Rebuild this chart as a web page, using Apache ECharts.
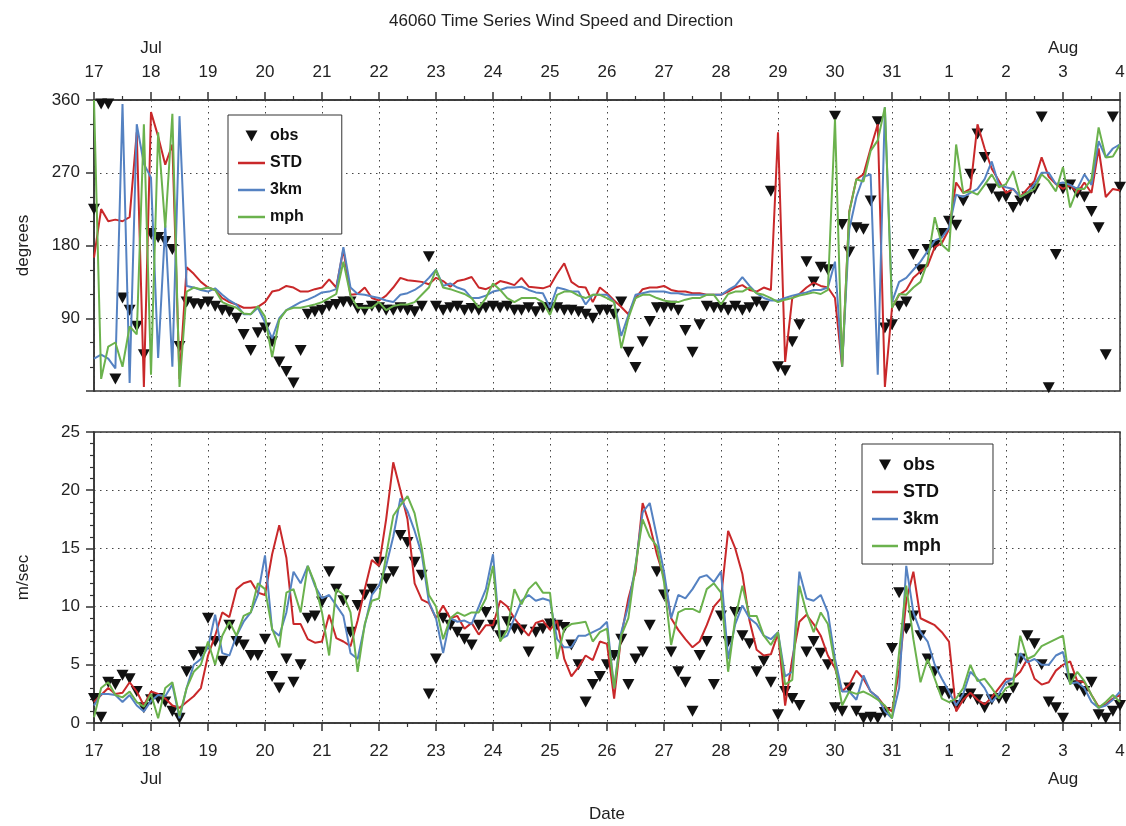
<!DOCTYPE html>
<html><head><meta charset="utf-8">
<script src="https://cdn.jsdelivr.net/npm/echarts/dist/echarts.min.js"></script>
<style>html,body{margin:0;padding:0;background:#fff}#c{width:1126px;height:826px}</style>
</head><body><div id="c"></div>
<script>
// tick labels (one per day, Jul 17 .. Aug 4)
const dayLabels = ['17','18','19','20','21','22','23','24','25','26','27','28','29','30','31','1','2','3','4'];
const monthLabels = {1:'Jul', 17:'Aug'};
const stepHours = 3; // values every 3 hours from Jul 17 00Z

// ---- wind direction (degrees) ----
const obsDir = [225,355,355,15,115,100,80,45, 195,190,185,175,55,110,108,107, 110,105,100,98,90,70,50,72,
 78,61,36,24,10,50,95,98, 100,105,107,110,110,102,100,105, 103,100,100,103,100,98,105,166,
 105,100,103,105,100,102,100,103, 105,103,105,100,100,103,98,103, 103,103,100,100,98,95,90,100,
 100,95,110,48,29,61,86,103, 103,105,100,75,48,82,105,103, 103,100,105,100,103,110,105,247,
 30,25,61,82,160,135,153,150, 340,206,172,202,200,235,333,78, 82,105,110,169,150,175,180,195,
 210,205,235,268,318,289,250,240, 240,227,235,240,250,339,4,169, 250,255,245,240,222,202,45,339, 252];
const stdDir = [165,225,210,212,210,215,320,5, 345,315,280,305,15,153,145,135, 128,125,115,110,107,103,103,104,
 110,123,125,130,128,123,123,126, 128,138,128,175,119,120,128,115, 112,118,128,140,137,136,135,132,
 140,136,129,136,138,141,128,126, 130,136,134,131,140,129,128,127, 130,145,158,135,129,128,110,128,
 121,112,104,95,115,126,128,128, 130,125,123,123,121,121,119,119, 119,123,128,131,125,123,128,125,
 320,36,115,120,128,134,130,128, 115,30,222,262,268,300,330,5, 103,119,125,140,148,155,178,183,
 200,258,245,250,330,300,275,260, 245,250,240,250,260,289,265,256, 250,255,245,258,245,300,240,250, 248];
const km3Dir = [40,45,40,28,355,10,330,281, 264,41,205,30,340,130,128,125, 123,127,119,112,107,95,95,103,
 85,65,90,100,105,110,113,117, 122,123,126,178,128,120,119,117, 115,112,110,119,121,125,131,140,
 150,130,133,128,125,115,115,118, 123,125,128,128,129,125,122,121, 103,128,126,123,123,107,119,119,
 119,110,68,94,119,121,123,123, 123,121,121,119,119,119,119,119, 119,125,130,141,130,121,115,112,
 112,115,118,120,122,125,125,128, 160,30,200,240,265,268,20,351, 110,135,140,150,160,173,186,190,
 202,243,240,245,250,262,284,255, 252,250,240,245,256,270,270,256, 258,255,250,268,255,309,289,300, 305];
const mphDir = [360,15,55,60,30,80,70,330, 20,320,202,343,5,123,128,126, 128,125,110,106,103,96,95,105,
 92,42,88,100,103,103,105,107, 110,115,120,160,118,103,103,103, 110,100,105,107,107,110,119,128,
 150,128,126,123,120,115,103,115, 133,125,115,110,115,115,115,110, 94,119,123,123,118,115,119,119,
 115,110,53,90,115,119,119,115, 112,110,110,113,115,115,119,119, 107,120,123,123,128,121,119,115,
 110,113,115,118,120,122,120,125, 336,30,221,262,259,297,310,351, 103,120,119,128,135,160,215,181,
 173,305,245,247,243,255,268,252, 256,272,240,245,250,268,260,247, 277,227,250,250,262,326,289,290, 305];

// ---- wind speed (m/sec) ----
const obsSpd = [2.1,0.5,3.5,3.3,4.1,3.8,2.7,1.3, 2.0,2.1,1.8,1.0,0.4,4.4,5.8,6.1, 9.0,7.0,5.3,8.4,7.0,6.7,5.8,5.8,
 7.2,4.0,3.0,5.5,3.5,5.0,9.0,9.2, 10.4,13.0,11.5,10.5,7.8,10.1,11.0,11.5, 13.8,12.4,13.0,16.1,15.5,13.8,12.7,2.5,
 5.5,9.0,8.4,7.8,7.2,6.7,8.4,9.5, 8.4,7.5,8.7,8.1,8.0,6.1,7.8,8.1, 8.5,8.4,8.2,6.7,5.0,1.8,3.3,4.0,
 5.0,5.8,7.2,3.3,5.5,6.1,8.4,13.0, 11.0,6.1,4.4,3.5,1.0,5.8,7.0,3.3, 9.2,7.0,9.5,7.5,6.8,4.4,5.3,3.5,
 0.7,2.7,2.1,1.5,6.1,7.0,6.0,5.0, 1.3,1.0,3.0,1.0,0.4,0.5,0.4,0.9, 6.4,11.2,8.1,9.2,7.5,5.5,4.4,2.7,
 2.5,1.5,2.1,2.5,2.0,1.3,2.0,2.1, 2.1,3.0,5.5,7.5,6.8,5.0,1.8,1.3, 0.4,3.8,3.2,2.7,3.5,0.7,0.4,1.0, 1.5];
const stdSpd = [1.8,2.4,3.0,2.5,2.6,3.5,2.7,1.5, 2.7,2.5,2.1,1.5,1.3,1.8,2.3,3.0, 5.8,7.5,9.5,9.1,11.5,12.0,12.2,11.2,
 11.0,14.5,17.0,14.2,8.5,8.5,7.2,6.9, 7.0,9.3,7.3,7.0,6.6,8.8,11.5,14.0, 13.5,17.5,22.4,20.0,17.5,12.0,10.6,10.3,
 9.0,10.1,9.0,9.2,8.1,8.6,7.6,8.4, 8.4,10.5,10.0,9.0,8.2,7.5,8.6,8.8, 8.0,8.8,5.5,4.0,4.8,5.8,5.4,7.0,
 6.8,2.1,7.5,10.7,13.0,18.9,17.0,14.5, 12.5,9.0,8.0,7.2,6.5,7.0,8.4,10.0, 10.7,16.5,15.0,12.8,8.8,6.3,5.8,5.9,
 7.7,1.5,5.5,8.7,9.3,8.5,7.5,5.8, 4.7,2.7,3.3,4.5,3.8,2.7,2.2,1.4, 1.0,4.5,10.5,13.0,9.0,8.7,8.4,7.8,
 7.0,1.0,2.0,2.6,2.0,1.6,2.2,3.0, 3.8,3.8,4.4,5.5,3.8,3.3,3.5,4.5, 5.0,5.3,3.6,3.5,2.4,1.4,1.6,2.1, 2.4];
const km3Spd = [1.5,2.5,2.5,2.4,1.8,2.4,1.5,1.0, 1.9,2.4,2.3,3.3,0.4,3.0,5.0,5.5, 6.5,9.3,6.0,5.8,7.5,8.7,9.5,11.0,
 14.4,8.0,7.5,9.5,13.0,12.0,13.5,11.8, 10.7,11.0,10.1,9.2,6.0,5.5,8.4,11.0, 11.8,13.5,16.0,19.3,18.2,16.5,14.5,10.4,
 9.0,6.0,9.0,8.7,8.8,8.5,10.0,11.5, 14.5,7.2,7.5,9.0,10.5,11.0,10.5,10.7, 10.5,7.2,6.5,6.5,7.5,7.5,7.8,8.1,
 8.7,3.0,7.8,10.1,13.5,18.1,18.9,16.0, 13.0,9.0,11.0,10.7,11.5,12.5,12.7,12.1, 13.0,5.5,8.5,10.1,9.0,8.5,7.5,7.2,
 7.8,4.0,4.4,13.0,10.7,10.5,11.0,9.5, 5.5,2.7,2.7,2.0,4.1,2.7,2.2,1.0, 0.4,3.0,13.5,9.5,7.8,7.0,5.0,3.8,
 2.7,1.5,2.5,4.4,3.8,3.0,1.8,2.5, 3.5,3.8,6.0,5.2,5.5,5.0,5.0,5.8, 6.1,3.4,3.5,3.0,1.8,1.3,1.5,2.0, 2.7];
const mphSpd = [0.5,3.0,3.5,2.4,2.2,2.7,1.8,1.4, 2.5,0.4,3.0,3.5,0.6,3.0,4.4,5.0, 7.0,5.0,7.5,8.7,7.5,9.2,9.5,12.0,
 11.5,8.1,6.5,11.2,11.5,9.5,13.5,12.0, 9.5,5.8,11.5,11.0,9.5,4.4,8.5,10.5, 10.7,14.4,17.8,18.7,19.5,18.0,15.0,11.0,
 10.0,7.2,9.0,9.5,9.2,9.5,9.5,10.7, 13.5,7.0,8.0,11.5,10.2,11.5,12.1,11.2, 11.2,5.5,8.1,8.5,8.6,8.7,7.0,7.8,
 8.1,3.0,7.5,9.0,13.5,17.5,16.0,15.2, 12.1,6.7,9.5,9.8,9.8,9.5,11.5,12.0, 11.2,4.4,9.0,11.8,9.2,9.2,7.5,6.7,
 7.8,3.3,3.7,11.8,9.5,7.8,9.5,8.5, 5.0,1.5,2.7,2.5,2.7,2.4,2.0,1.5, 0.4,6.1,11.8,7.2,3.5,5.5,3.8,2.1,
 1.8,2.1,3.0,5.0,3.6,3.8,3.0,2.1, 3.0,3.3,7.5,5.5,5.8,6.6,6.9,7.2, 7.5,3.3,4.4,3.6,2.4,1.3,1.8,2.4, 1.8];

const FONT = '"Liberation Sans", Arial, Helvetica, sans-serif';
const RED = '#c9282a', BLUE = '#5582c2', GREEN = '#6bb24d', BLACK = '#111';
const AX = '#333';
const pairs = arr => arr.map((v, i) => [i * stepHours, v]);
const maxH = (dayLabels.length - 1) * 24;

function xAxisFor(gridIndex, top) {
  return {
    type: 'value', gridIndex, min: 0, max: maxH, interval: 24,
    position: top ? 'top' : 'bottom',
    axisLine: {show: true, onZero: false, lineStyle: {color: AX, width: 1.5}},
    axisTick: {show: true, length: 8, lineStyle: {color: AX, width: 1.5}},
    minorTick: {show: true, splitNumber: 2, length: 4, lineStyle: {color: AX, width: 1.2}},
    splitLine: {show: true, lineStyle: {color: '#444', type: [1.5, 4.5], width: 1}},
    axisLabel: {
      show: true, margin: top ? 16 : 14, fontFamily: FONT, fontSize: 17, color: '#222',
      lineHeight: top ? 24 : 28, showMinLabel: true, showMaxLabel: true, hideOverlap: false,
      formatter: v => {
        const i = Math.round(v / 24);
        const d = dayLabels[i];
        if (monthLabels[i]) return top ? monthLabels[i] + '\n' + d : d + '\n' + monthLabels[i];
        return d;
      }
    },
    name: top ? '' : 'Date', nameLocation: 'middle', nameGap: 83,
    nameTextStyle: {fontFamily: FONT, fontSize: 17, color: '#222'}
  };
}
function yAxisFor(gridIndex, max, interval, minorSplit, name, hideZero) {
  return {
    type: 'value', gridIndex, min: 0, max, interval,
    axisLine: {show: true, lineStyle: {color: AX, width: 1.5}},
    axisTick: {show: true, length: 8, lineStyle: {color: AX, width: 1.5}},
    minorTick: {show: true, splitNumber: minorSplit, length: 4, lineStyle: {color: AX, width: 1.2}},
    splitLine: {show: true, lineStyle: {color: '#444', type: [1.5, 4.5], width: 1}},
    axisLabel: {margin: 14, fontFamily: FONT, fontSize: 17, color: '#222', showMinLabel: true, showMaxLabel: true,
      formatter: v => (hideZero && v === 0) ? '' : String(v)},
    name, nameLocation: 'middle', nameGap: 62, nameRotate: 90,
    nameTextStyle: {fontFamily: FONT, fontSize: 17, color: '#222'}
  };
}
function lineSeries(name, color, data, idx) {
  return {name, type: 'line', xAxisIndex: idx, yAxisIndex: idx, data: pairs(data), symbol: 'none',
    showSymbol: false, lineStyle: {color, width: 2}, itemStyle: {color}, animation: false, z: 3};
}
function obsSeries(data, idx) {
  return {name: 'obs', type: 'scatter', xAxisIndex: idx, yAxisIndex: idx, data: pairs(data),
    symbol: 'triangle', symbolRotate: 180, symbolSize: [12, 11], itemStyle: {color: BLACK, opacity: 1},
    animation: false, z: 2};
}
function legendFor(left, top, w, h, gap, pad, fs) {
  const tri = `path://M0,0L0,0M${w},${h}L${w},${h}M${w/2-6},${h/2-5.5}L${w/2+6},${h/2-5.5}L${w/2},${h/2+5.5}Z`;
  const bar = `path://M0,0L0,0M${w},${h}L${w},${h}M0,${h/2-1.25}L${w},${h/2-1.25}L${w},${h/2+1.25}L0,${h/2+1.25}Z`;
  return {
    orient: 'vertical', left, top, itemWidth: w, itemHeight: h, itemGap: gap, padding: pad,
    borderColor: '#333', borderWidth: 1, backgroundColor: '#fff', selectedMode: false,
    textStyle: {fontFamily: FONT, fontSize: fs, fontWeight: 'bold', color: '#111'},
    itemStyle: {borderWidth: 0, opacity: 1},
    data: [{name: 'obs', icon: tri}, {name: 'STD', icon: bar}, {name: '3km', icon: bar}, {name: 'mph', icon: bar}]
  };
}

const chart = echarts.init(document.getElementById('c'), null, {renderer: 'canvas'});
chart.setOption({
  backgroundColor: '#fff',
  animation: false,
  title: {text: '46060 Time Series Wind Speed and Direction', left: 384, top: 8,
    textStyle: {fontFamily: FONT, fontSize: 17, fontWeight: 'normal', color: '#222'}},
  grid: [
    {left: 94, right: 6, top: 100, height: 291, show: true, borderColor: AX, borderWidth: 1.5, outerBoundsMode: 'none'},
    {left: 94, right: 6, top: 432, height: 291, show: true, borderColor: AX, borderWidth: 1.5, outerBoundsMode: 'none'}
  ],
  xAxis: [xAxisFor(0, true), xAxisFor(1, false)],
  yAxis: [yAxisFor(0, 360, 90, 3, 'degrees', true), yAxisFor(1, 25, 5, 5, 'm/sec', false)],
  legend: [
    legendFor(228, 115, 27, 16, 11, [13, 38, 9, 10], 16),
    legendFor(862, 444, 26, 18, 9, [12, 52, 9, 10], 18)
  ],
  series: [
    obsSeries(obsDir, 0), lineSeries('STD', RED, stdDir, 0), lineSeries('3km', BLUE, km3Dir, 0), lineSeries('mph', GREEN, mphDir, 0),
    obsSeries(obsSpd, 1), lineSeries('STD', RED, stdSpd, 1), lineSeries('3km', BLUE, km3Spd, 1), lineSeries('mph', GREEN, mphSpd, 1)
  ]
});
</script></body></html>
